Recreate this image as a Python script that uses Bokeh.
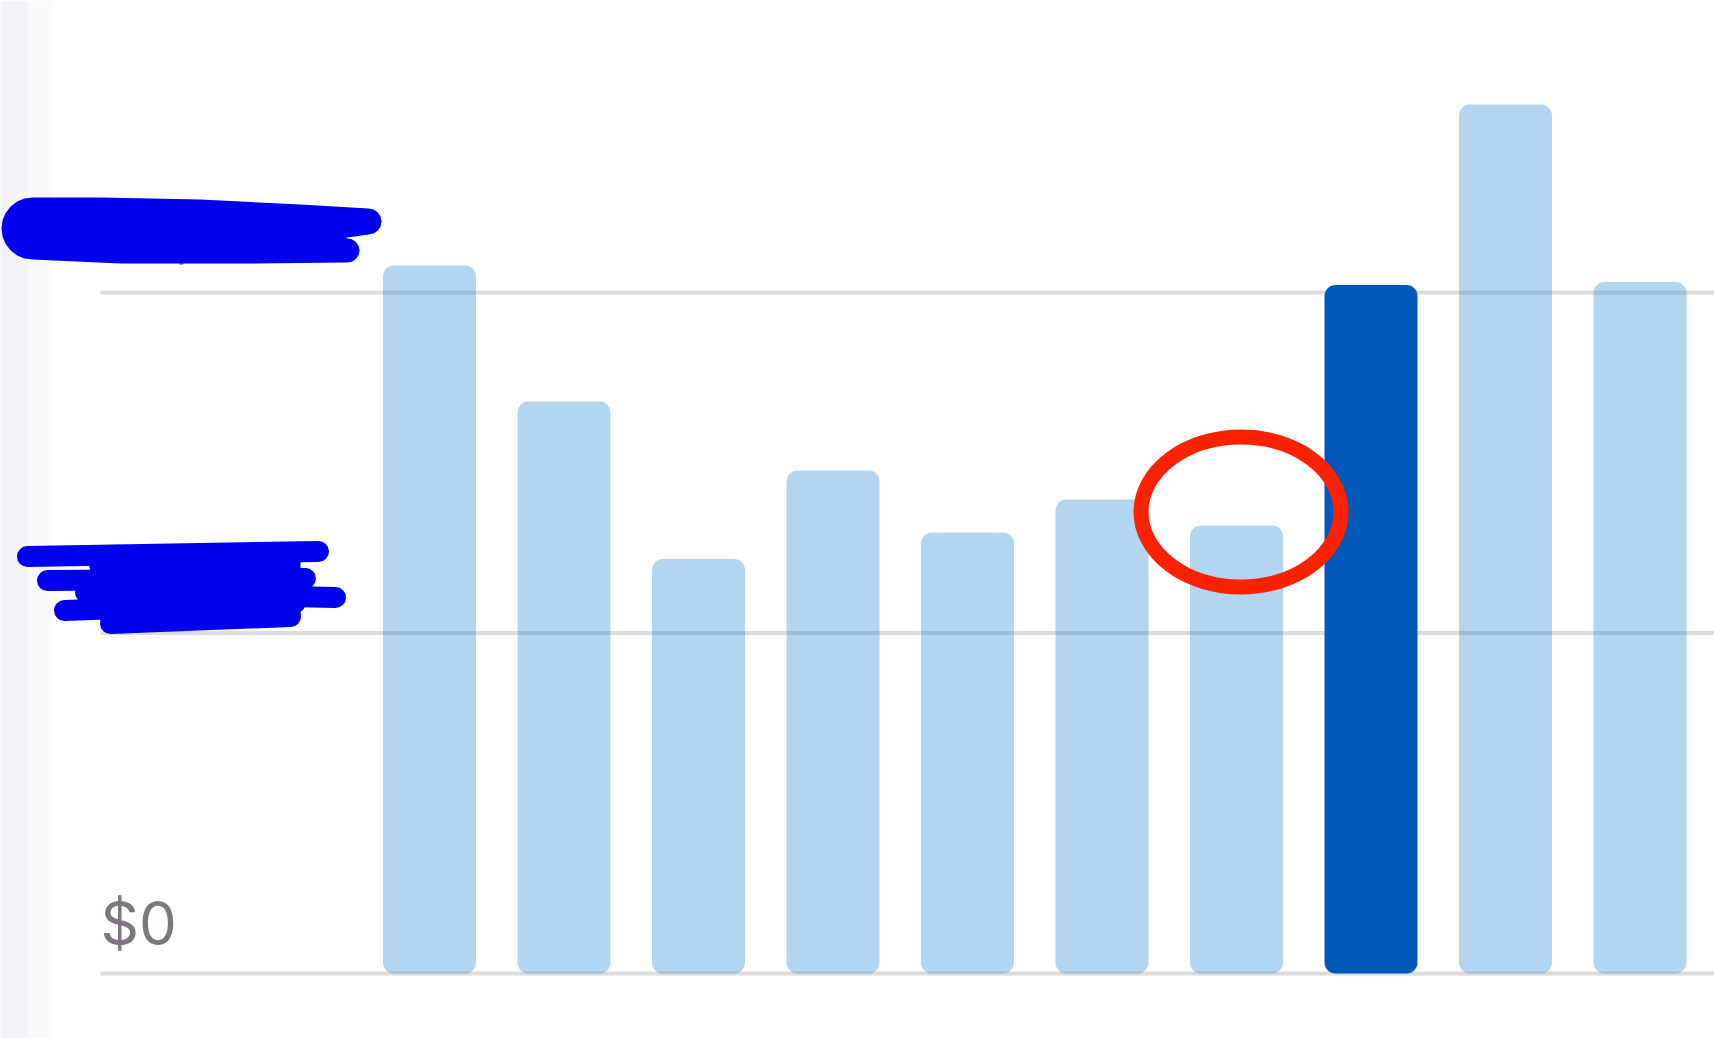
import math
from bokeh.plotting import figure
from bokeh.models import ColumnDataSource
from bokeh.core.properties import value
from bokeh.embed import file_html
from bokeh.resources import INLINE

# ---- data ----
bar_index = [0, 1, 2, 3, 4, 5, 6, 7, 8, 9]
bar_values = [2079, 1680, 1217, 1477, 1295, 1392, 1316, 2022, 2552, 2031]
highlight_index = 7
tick_values = [0, 1000, 2000]
tick_labels = ["$0", "$1,000", "$2,000"]
circled_index = 6

# ---- layout (page pixels) ----
W, H = 1714, 1038
PAGE_OFF = 0
BAR0_PX = 429.0      # centre of first bar
BAR_STEP_PX = 134.5  # distance between bar centres
BASE_PX = 973.0      # y of the zero line
UNIT_PX = 340.5      # px per 1000

X0 = -(BAR0_PX - PAGE_OFF) / BAR_STEP_PX
X1 = X0 + W / BAR_STEP_PX
Y1 = (BASE_PX - PAGE_OFF) / UNIT_PX * 1000
Y0 = Y1 - H / UNIT_PX * 1000


def px_x(px):
    return X0 + (px - PAGE_OFF) / W * (X1 - X0)


def px_y(py):
    return Y1 - (py - PAGE_OFF) / H * (Y1 - Y0)


def arc(cx, cy, r, a0, a1, n=12):
    # screen-space arc (y grows downward), angles in degrees
    pts = []
    for k in range(n + 1):
        a = math.radians(a0 + (a1 - a0) * k / n)
        pts.append((cx + r * math.cos(a), cy - r * math.sin(a)))
    return pts


p = figure(width=W, height=H, x_range=(X0, X1), y_range=(Y0, Y1),
           output_backend="svg", toolbar_location=None,
           x_axis_location=None, y_axis_location=None, min_border=0)
p.outline_line_color = None
p.grid.visible = False
p.background_fill_color = "white"
p.border_fill_color = "white"

# faint screenshot strip on the left
p.quad(left=[px_x(-5)], right=[px_x(28)], bottom=[Y0], top=[Y1],
       fill_color="#f3f4f7", line_color=None)
p.quad(left=[px_x(28)], right=[px_x(52)], bottom=[Y0], top=[Y1],
       fill_color="#f9fafb", line_color=None)

# horizontal grid lines
label_x = px_x(100)
p.segment(x0=[label_x] * len(tick_values), x1=[X1 + 1] * len(tick_values),
          y0=tick_values, y1=tick_values, line_color="#dcdcdc", line_width=4)

# bars
colors = ["#0059b8" if i == highlight_index else "#0a77ce" for i in bar_index]
alphas = [1.0 if i == highlight_index else 0.31 for i in bar_index]
src = ColumnDataSource(dict(x=bar_index, top=bar_values, color=colors, alpha=alphas))
p.vbar(x="x", top="top", bottom=0, width=93 / BAR_STEP_PX, source=src,
       fill_color="color", fill_alpha="alpha", line_color=None, border_radius=11)

# tick labels (upper two are scribbled over in the reference)
label_offset = [51, 43, 61]
p.text(x=[label_x] * len(tick_values),
       y=[t + off / UNIT_PX * 1000 for t, off in zip(tick_values, label_offset)],
       text=tick_labels, text_font=value("Inter"), text_font_size="60px",
       text_color="#7d787e", text_baseline="alphabetic", text_align="left")

# blue scribbles over the hidden labels
top_blob = (arc(32, 228, 30, 90, 270)
            + [(120, 262), (250, 262), (345, 261)]
            + arc(347, 250, 11, -90, 90, 8)
            + [(340, 237)]
            + arc(368, 221, 12, -90, 90, 8)
            + [(300, 205), (200, 200), (100, 198)])
p.patch(x=[px_x(a) for a, b in top_blob], y=[px_y(b) for a, b in top_blob],
        fill_color="#0000ee", line_color="#0000ee", line_width=2, line_join="round")

strokes = [[(27, 556), (318, 551)], [(47, 580), (305, 578)], [(85, 592), (335, 597)],
           [(64, 610), (295, 602)], [(110, 623), (290, 616)]]
mid_fill = [(85, 552), (300, 549), (300, 615), (105, 625)]
p.patch(x=[px_x(a) for a, b in mid_fill], y=[px_y(b) for a, b in mid_fill],
        fill_color="#0000ee", line_color=None)
p.multi_line(xs=[[px_x(a) for a, b in s] for s in strokes],
             ys=[[px_y(b) for a, b in s] for s in strokes],
             line_color="#0000ee", line_width=21, line_cap="round")

# red circle around the circled bar top
p.ellipse(x=[circled_index + (1240.5 - (BAR0_PX + circled_index * BAR_STEP_PX)) / BAR_STEP_PX],
          y=[px_y(511.5)], width=200, height=150,
          width_units="screen", height_units="screen",
          fill_color=None, line_color="#ff2200", line_width=15)

open("out.html", "w").write(file_html(p, INLINE))
